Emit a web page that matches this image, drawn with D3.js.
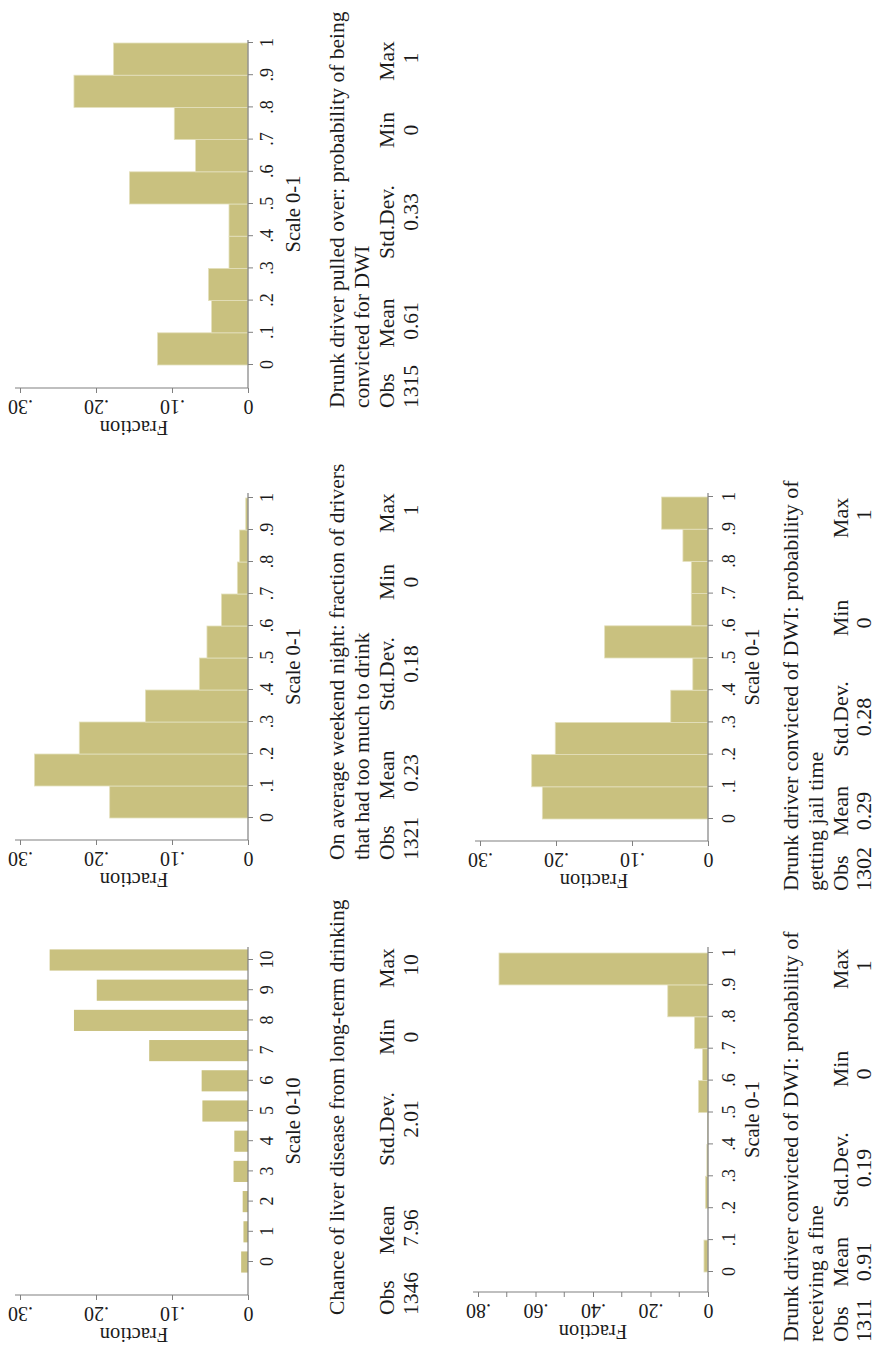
<!DOCTYPE html>
<html>
<head>
<meta charset="utf-8">
<script src="https://cdn.jsdelivr.net/npm/d3@7"></script>
<style>
  html, body { margin: 0; padding: 0; background: #fff; }
  svg { display: block; }
</style>
</head>
<body>
<div id="chart"></div>
<script>
// --- Datos (fracción por intervalo) ---
const bins01 = [0, .1, .2, .3, .4, .5, .6, .7, .8, .9];
const ticks01 = [0, .1, .2, .3, .4, .5, .6, .7, .8, .9, 1];
const liverScale = [0, 1, 2, 3, 4, 5, 6, 7, 8, 9, 10];

const pulledOver   = [0.119, 0.048, 0.052, 0.025, 0.025, 0.156, 0.069, 0.097, 0.229, 0.177];
const weekendNight = [0.182, 0.281, 0.222, 0.135, 0.064, 0.054, 0.035, 0.014, 0.011, 0.003];
const liverDisease = [0.009, 0.006, 0.007, 0.019, 0.018, 0.060, 0.061, 0.130, 0.229, 0.199, 0.261];
const jailTime     = [0.218, 0.232, 0.201, 0.049, 0.020, 0.136, 0.022, 0.022, 0.033, 0.061];
const fineReceived = [0.014, 0, 0.009, 0.004, 0.002, 0.033, 0.019, 0.047, 0.140, 0.727];

const fracTicks30 = [0, .1, .2, .3];
const fracTicks80 = [0, .2, .4, .6, .8];
const fracMinor80 = [.1, .3, .5, .7];

const statHeads = ['Obs', 'Mean', 'Std.Dev.', 'Min', 'Max'];
const pulledStats  = ['1315', '0.61', '0.33', '0', '1'];
const weekendStats = ['1321', '0.23', '0.18', '0', '1'];
const liverStats   = ['1346', '7.96', '2.01', '0', '10'];
const jailStats    = ['1302', '0.29', '0.28', '0', '1'];
const fineStats    = ['1311', '0.91', '0.19', '0', '1'];

const pulledTitle  = ['Drunk driver pulled over: probability of being', 'convicted for DWI'];
const weekendTitle = ['On average weekend night: fraction of drivers', 'that had too much to drink'];
const liverTitle   = ['Chance of liver disease from long-term drinking', ''];
const jailTitle    = ['Drunk driver convicted of DWI: probability of', 'getting jail time'];
const fineTitle    = ['Drunk driver convicted of DWI: probability of', 'receiving a fine'];

// --- Estilo ---
const W = 878, H = 1350;
const BAR = '#c9c17f';
const BAR_EDGE = '#e4e0bd';
const AXIS = '#808080';
const INK = '#1b1b1b';
const SERIF = '"Liberation Serif", "DejaVu Serif", "Times New Roman", serif';

const fmt01 = d => d === 0 ? '0' : d === 1 ? '1' : '.' + Math.round(d * 10);
const fmtFrac = d => d === 0 ? '0' : d3.format('.2f')(d).replace(/^0/, '');

const svg = d3.select('#chart').append('svg')
  .attr('width', W).attr('height', H)
  .attr('viewBox', [0, 0, W, H]);

// La figura original es apaisada; se dibuja en horizontal y se gira -90°
const land = svg.append('g').attr('transform', `translate(0,${H}) rotate(-90)`);

// Filas del apaisado: arriba (columna izquierda) y abajo (columna derecha)
const rows = {
  top: { base: 248, top: 20, catLabel: 25, titleY: 300, lines: [344, 369, 394, 418], fs: 21.5, textGap: 20,
         head: [0, 85, 186, 278, 347], val: [0, 87, 196, 278, 350] },
  bottom: { base: 708, top: 480, catLabel: 27, titleY: 759, lines: [798, 823, 848, 871], fs: 22, textGap: 50,
         head: [0, 80, 172, 273, 373], val: [0, 80, 174, 268, 376] }
};

function drawPanel(p) {
  const r = rows[p.row];
  const g = land.append('g');
  const x = d3.scaleLinear().domain(p.xDomain).range(p.xRange);
  const y = d3.scaleLinear().domain([0, p.yMax]).range([r.base, p.top || r.top]);

  // barras
  g.append('g')
    .selectAll('rect')
    .data(p.bars)
    .join('rect')
    .attr('x', d => x(d.x0))
    .attr('width', d => x(d.x1) - x(d.x0))
    .attr('y', d => y(d.v))
    .attr('height', d => r.base - y(d.v))
    .attr('fill', BAR)
    .attr('stroke', p.gaps ? 'none' : BAR_EDGE)
    .attr('stroke-width', 0.8);

  // eje de categorías
  const xAxis = g.append('g')
    .attr('transform', `translate(0,${r.base})`)
    .call(d3.axisBottom(x).tickValues(p.xTicks).tickFormat(p.xFmt).tickSize(5).tickSizeOuter(0));
  xAxis.select('.domain').remove();
  xAxis.selectAll('line').attr('stroke', AXIS);
  xAxis.selectAll('text')
    .attr('y', r.catLabel).attr('dy', 0)
    .attr('fill', INK)
    .style('font', `18px ${SERIF}`);
  g.append('line')
    .attr('x1', p.axisLeft).attr('x2', p.axisRight)
    .attr('y1', r.base).attr('y2', r.base)
    .attr('stroke', AXIS).attr('stroke-width', 1.2);

  // eje de fracción
  const yAxis = g.append('g')
    .attr('transform', `translate(${p.axisLeft},0)`)
    .call(d3.axisLeft(y).tickValues(p.yTicks).tickFormat(fmtFrac).tickSize(5).tickSizeOuter(0));
  yAxis.select('.domain').remove();
  yAxis.selectAll('line').attr('stroke', AXIS);
  yAxis.selectAll('text')
    .attr('x', 0).attr('dy', 0)
    .attr('transform', 'translate(-12,0) rotate(-90)')
    .attr('text-anchor', 'middle')
    .attr('fill', INK)
    .style('font', `20px ${SERIF}`);
  if (p.yMinor) {
    g.append('g')
      .selectAll('line')
      .data(p.yMinor)
      .join('line')
      .attr('x1', p.axisLeft - 5).attr('x2', p.axisLeft)
      .attr('y1', d => y(d)).attr('y2', d => y(d))
      .attr('stroke', AXIS);
  }
  g.append('line')
    .attr('x1', p.axisLeft).attr('x2', p.axisLeft)
    .attr('y1', r.base).attr('y2', y(p.yMax) - 5)
    .attr('stroke', AXIS).attr('stroke-width', 1.2);

  // títulos de ejes
  g.append('text')
    .attr('transform', `translate(${p.axisLeft - 33},${(r.base + y(p.yMax)) / 2}) rotate(-90)`)
    .attr('text-anchor', 'middle')
    .attr('fill', INK)
    .style('font', `20.5px ${SERIF}`)
    .text('Fraction');
  g.append('text')
    .attr('x', (p.axisLeft + p.axisRight) / 2)
    .attr('y', r.titleY)
    .attr('text-anchor', 'middle')
    .attr('fill', INK)
    .style('font', `20.5px ${SERIF}`)
    .text(p.xTitle);

  // nota con descripción y estadísticos
  const x0 = p.axisLeft - r.textGap;
  const note = g.append('g').attr('fill', INK).style('font', `${r.fs}px ${SERIF}`);
  p.title.forEach((t, i) => {
    note.append('text').attr('x', x0).attr('y', r.lines[i]).text(t);
  });
  statHeads.forEach((t, i) => {
    note.append('text')
      .attr('x', x0 + r.head[i]).attr('y', r.lines[2])
      .attr('text-anchor', i === 0 ? 'start' : 'middle')
      .text(t);
  });
  p.stats.forEach((t, i) => {
    note.append('text')
      .attr('x', x0 + r.val[i]).attr('y', r.lines[3])
      .attr('text-anchor', i === 0 ? 'start' : 'middle')
      .text(t);
  });
}

const histBars = vals => bins01.map((b, i) => ({ x0: b, x1: b + .1, v: vals[i] }));

drawPanel({
  row: 'top', xDomain: [0, 10], xRange: [88, 390], axisLeft: 55, axisRight: 403,
  bars: liverScale.map((s, i) => ({ x0: s - .35, x1: s + .35, v: liverDisease[i] })), gaps: true,
  xTicks: liverScale, xFmt: d => String(d), xTitle: 'Scale 0-10',
  yMax: .30, yTicks: fracTicks30, title: liverTitle, stats: liverStats
});
drawPanel({
  row: 'top', xDomain: [0, 1], xRange: [532, 852], axisLeft: 510, axisRight: 857,
  bars: histBars(weekendNight), xTicks: ticks01, xFmt: fmt01, xTitle: 'Scale 0-1',
  yMax: .30, yTicks: fracTicks30, title: weekendTitle, stats: weekendStats
});
drawPanel({
  row: 'top', xDomain: [0, 1], xRange: [985, 1307], axisLeft: 962, axisRight: 1310,
  bars: histBars(pulledOver), xTicks: ticks01, xFmt: fmt01, xTitle: 'Scale 0-1',
  yMax: .30, yTicks: fracTicks30, title: pulledTitle, stats: pulledStats
});
drawPanel({
  row: 'bottom', xDomain: [0, 1], xRange: [78, 397], axisLeft: 58, axisRight: 403,
  bars: histBars(fineReceived), xTicks: ticks01, xFmt: fmt01, xTitle: 'Scale 0-1',
  yMax: .80, top: 478, yTicks: fracTicks80, yMinor: fracMinor80, title: fineTitle, stats: fineStats
});
drawPanel({
  row: 'bottom', xDomain: [0, 1], xRange: [531, 853], axisLeft: 509, axisRight: 857,
  bars: histBars(jailTime), xTicks: ticks01, xFmt: fmt01, xTitle: 'Scale 0-1',
  yMax: .30, yTicks: fracTicks30, title: jailTitle, stats: jailStats
});
</script>
</body>
</html>
